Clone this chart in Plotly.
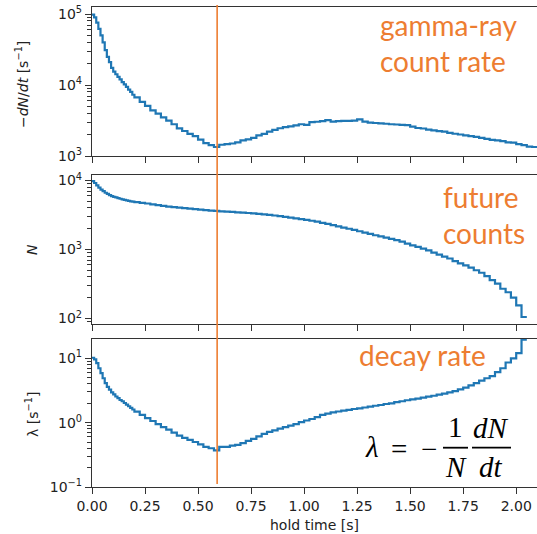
import plotly.graph_objects as go

FINE, COARSE, SPLIT = 0.01, 0.025, 0.2  # bin widths [s]: fine bins before SPLIT, coarse after

# -dN/dt [s^-1], one value per bin starting at 0
count_rate = [98000, 90000, 76000, 62000, 50000, 40000, 31000, 25000, 21000, 17500,
              15500, 14200, 13000, 12000, 11000, 10200, 9400, 8600, 8000, 7300,
              6700, 5800,
              5100, 4400, 3950, 3500, 3150, 2800, 2450, 2250, 2050, 1900,
              1700, 1520, 1420, 1340, 1440, 1470, 1500, 1560, 1660, 1720,
              1800, 1950, 2050, 2200, 2330, 2460, 2550, 2620, 2700, 2800,
              2740, 3000, 3040, 3100, 3210, 3060, 3100, 3120, 3130, 3150,
              3280, 3050, 2960, 2920, 2890, 2850, 2800, 2780, 2750, 2720,
              2600, 2480, 2440, 2350, 2300, 2240, 2200, 2120, 2060, 2010,
              1950, 1900, 1860, 1800, 1740, 1690, 1660, 1620, 1560, 1540,
              1470, 1420, 1360, 1340]

# N (future counts)
future_counts = [9800, 9200, 8500, 7900, 7400, 7000, 6650, 6400, 6150, 5950,
                 5800, 5680, 5550, 5440, 5340, 5250, 5160, 5080, 5000, 4940,
                 4860, 4750,
                 4640, 4520, 4400, 4290, 4190, 4110, 4040, 3970, 3910, 3850,
                 3780, 3720, 3670, 3620, 3580, 3540, 3500, 3460, 3420, 3380,
                 3340, 3290, 3240, 3180, 3110, 3040, 2970, 2900, 2830, 2760,
                 2680, 2610, 2530, 2440, 2350, 2260, 2170, 2080, 2000, 1920,
                 1840, 1760, 1680, 1610, 1550, 1490, 1430, 1370, 1300, 1220,
                 1150, 1090, 1030, 970, 900, 840, 790, 740, 680, 630,
                 590, 545, 500, 460, 410, 360, 320, 270, 240, 200,
                 155, 105]

# lambda [s^-1]
decay_rate = [10.2, 9.6, 8.4, 7.0, 5.9, 4.9, 4.1, 3.6, 3.25, 2.95,
              2.75, 2.55, 2.4, 2.25, 2.15, 2.02, 1.9, 1.8, 1.7, 1.6,
              1.48, 1.32,
              1.18, 1.06, 0.95, 0.85, 0.78, 0.7, 0.63, 0.58, 0.54, 0.5,
              0.46, 0.42, 0.4, 0.37, 0.42, 0.42, 0.44, 0.45, 0.48, 0.52,
              0.56, 0.61, 0.67, 0.72, 0.76, 0.81, 0.85, 0.9, 0.95, 1.02,
              1.08, 1.14, 1.22, 1.32, 1.38, 1.44, 1.49, 1.54, 1.58, 1.63,
              1.67, 1.72, 1.78, 1.83, 1.88, 1.95, 2.0, 2.08, 2.15, 2.23,
              2.3, 2.36, 2.45, 2.53, 2.62, 2.72, 2.83, 2.95, 3.1, 3.3,
              3.5, 3.8, 4.1, 4.5, 4.9, 5.3, 6.1, 7.0, 8.6, 10.0,
              12.0, 19.5]

x_ticks = [0.0, 0.25, 0.5, 0.75, 1.0, 1.25, 1.5, 1.75, 2.0]
x_ticklabels = ["0.00", "0.25", "0.50", "0.75", "1.00", "1.25", "1.50", "1.75", "2.00"]
marker_time = 0.59

BLUE = "#1f77b4"
ORANGE = "#ED7D31"
SPINE = "#333333"

W, H = 537, 534
ML, MR, MT, MB = 92, 0, 7, 47
PW, PH = W - ML - MR, H - MT - MB


def px(xp):
    return (xp - ML) / PW


def py(yp):
    return (H - MB - yp) / PH


def bin_edges(n):
    nf = int(round(SPLIT / FINE))
    edges = []
    for i in range(n + 1):
        if i <= nf:
            edges.append(round(i * FINE, 4))
        else:
            edges.append(round(SPLIT + (i - nf) * COARSE, 4))
    return edges


def steps(vals):
    xs = bin_edges(len(vals))
    ys = list(vals) + [vals[-1]]
    return xs, ys


fig = go.Figure()
for vals, ax in [(count_rate, ""), (future_counts, "2"), (decay_rate, "3")]:
    xs, ys = steps(vals)
    fig.add_trace(go.Scatter(x=xs, y=ys, mode="lines", line=dict(color=BLUE, width=2.2, shape="hv"),
                             xaxis="x" + ax, yaxis="y" + ax, showlegend=False, hoverinfo="skip"))


def minor_vals(lo, hi):
    out = []
    for e in range(lo, hi):
        for m in range(2, 10):
            out.append(m * 10 ** e)
    return out


def yaxis(dom, rng, tv, tt, anchor, mlo, mhi):
    return dict(domain=dom, type="log", range=rng, tickvals=tv, ticktext=tt, anchor=anchor,
                showline=True, linecolor=SPINE, linewidth=1.3, ticks="outside", ticklen=6,
                tickcolor=SPINE, tickwidth=1.2, showgrid=False, zeroline=False, automargin=False,
                tickfont=dict(family="DejaVu Sans", size=14, color="#222"),
                minor=dict(tickvals=minor_vals(mlo, mhi), ticks="outside", ticklen=3.5,
                           tickcolor=SPINE, tickwidth=0.9, showgrid=False))


def xaxis(anchor, labels):
    return dict(domain=[0, 1], range=[0, 2.098], anchor=anchor,
                tickvals=x_ticks, ticktext=x_ticklabels, showticklabels=labels,
                showline=True, mirror=True, linecolor=SPINE, linewidth=1.3,
                ticks="outside", ticklen=6, tickcolor=SPINE, tickwidth=1.2,
                showgrid=False, zeroline=False, automargin=False,
                tickfont=dict(family="DejaVu Sans", size=14, color="#222"))


fig.update_layout(
    width=W, height=H, margin=dict(l=ML, r=MR, t=MT, b=MB),
    paper_bgcolor="white", plot_bgcolor="white",
    xaxis=xaxis("y", False), xaxis2=xaxis("y2", False), xaxis3=xaxis("y3", True),
    yaxis=yaxis([py(156), py(7)], [3, 5.1], [1e3, 1e4, 1e5],
                ["10<sup>3</sup>", "10<sup>4</sup>", "10<sup>5</sup>"], "x", 3, 5),
    yaxis2=yaxis([py(324), py(175)], [1.92, 4.08], [1e2, 1e3, 1e4],
                 ["10<sup>2</sup>", "10<sup>3</sup>", "10<sup>4</sup>"], "x2", 1, 4),
    yaxis3=yaxis([0, py(339)], [-1, 1.3], [0.1, 1, 10],
                 ["10<sup>−1</sup>", "10<sup>0</sup>", "10<sup>1</sup>"], "x3", -1, 2),
)

# orange marker line across all panels
fig.add_shape(type="line", xref="x3", yref="paper", x0=marker_time, x1=marker_time,
              y0=py(484), y1=py(5), line=dict(color=ORANGE, width=1.6), layer="above")

ann = []
lab_font = dict(family="DejaVu Sans", size=14, color="#222")
ann.append(dict(text="−<i>dN</i>/<i>dt</i> [s<sup>−1</sup>]", x=px(22), y=py(85), textangle=-90, font=lab_font))
ann.append(dict(text="<i>N</i>", x=px(32), y=py(250), textangle=-90, font=lab_font))
ann.append(dict(text="λ [s<sup>−1</sup>]", x=px(32), y=py(415), textangle=-90, font=lab_font))
ann.append(dict(text="hold time [s]", x=px(314), y=py(525), font=lab_font))

of = dict(family="Lato", size=28, color=ORANGE)
ann.append(dict(text="gamma-ray<br>count rate", x=px(378), y=py(6), xanchor="left", yanchor="top",
                align="left", font=of))
ann.append(dict(text="future<br>counts", x=px(441), y=py(178), xanchor="left", yanchor="top",
                align="left", font=of))
ann.append(dict(text="decay rate", x=px(357), y=py(336), xanchor="left", yanchor="top",
                align="left", font=of))

mf = dict(family="Liberation Serif", size=29, color="black")
ann.append(dict(text="<i>λ</i>", x=px(372), y=py(447), font=mf))
ann.append(dict(text="=", x=px(399), y=py(449), font=mf))
ann.append(dict(text="−", x=px(428.5), y=py(449), font=mf))
ann.append(dict(text="1", x=px(455.5), y=py(427), font=mf))
ann.append(dict(text="<i>N</i>", x=px(455.5), y=py(467), font=mf))
ann.append(dict(text="<i>dN</i>", x=px(491), y=py(428), font=mf))
ann.append(dict(text="<i>dt</i>", x=px(491), y=py(467), font=mf))

for a in ann:
    a.setdefault("xanchor", "center")
    a.setdefault("yanchor", "middle")
    a.update(xref="paper", yref="paper", showarrow=False)
fig.update_layout(annotations=ann)

for x0, x1 in [(443, 468), (472, 511)]:
    fig.add_shape(type="line", xref="paper", yref="paper", x0=px(x0), x1=px(x1),
                  y0=py(447.7), y1=py(447.7), line=dict(color="black", width=1.8))

fig.write_html("out.html", config={"displayModeBar": False},
               post_script="document.body.style.margin='0px';document.body.style.overflow='hidden';")
